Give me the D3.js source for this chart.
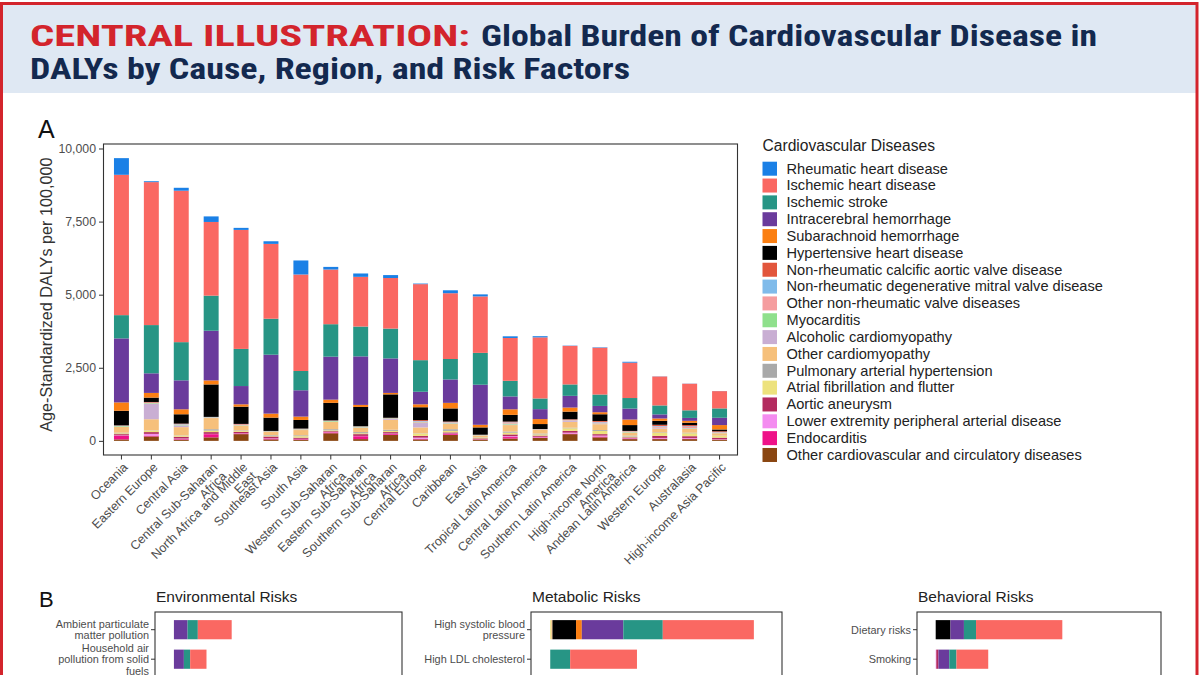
<!DOCTYPE html>
<html><head><meta charset="utf-8">
<script src="https://cdn.jsdelivr.net/npm/d3@7"></script>
<style>body{margin:0;background:#fff;} svg{display:block;}</style>
</head><body>
<svg id="c" width="1200" height="675"></svg>
<script>
// ---------------- DATA ----------------
const regions = ["Oceania","Eastern Europe","Central Asia","Central Sub-Saharan Africa","North Africa and Middle East","Southeast Asia","South Asia","Western Sub-Saharan Africa","Eastern Sub-Saharan Africa","Southern Sub-Saharan Africa","Central Europe","Caribbean","East Asia","Tropical Latin America","Central Latin America","Southern Latin America","High-income North America","Andean Latin America","Western Europe","Australasia","High-income Asia Pacific"];
const regionTickLabels = ["Oceania","Eastern Europe","Central Asia","Central Sub-Saharan\nAfrica","North Africa and Middle\nEast","Southeast Asia","South Asia","Western Sub-Saharan\nAfrica","Eastern Sub-Saharan\nAfrica","Southern Sub-Saharan\nAfrica","Central Europe","Caribbean","East Asia","Tropical Latin America","Central Latin America","Southern Latin America","High-income North\nAmerica","Andean Latin America","Western Europe","Australasia","High-income Asia Pacific"];
const causes = ["Rheumatic heart disease","Ischemic heart disease","Ischemic stroke","Intracerebral hemorrhage","Subarachnoid hemorrhage","Hypertensive heart disease","Non-rheumatic calcific aortic valve disease","Non-rheumatic degenerative mitral valve disease","Other non-rheumatic valve diseases","Myocarditis","Alcoholic cardiomyopathy","Other cardiomyopathy","Pulmonary arterial hypertension","Atrial fibrillation and flutter","Aortic aneurysm","Lower extremity peripheral arterial disease","Endocarditis","Other cardiovascular and circulatory diseases"];
const causeColors = ["#1a80e6","#fa6862","#279585","#6a3b9c","#fb7f12","#000000","#e2563c","#80bbea","#f59d9f","#8fe08c","#c9aed3","#f6c07b","#a9a9a9","#ede27d","#b32b5f","#f48cf0","#ee1288","#8a4611"];

const rheumatic   = [570,30,100,190,70,90,480,90,115,100,20,100,70,57,40,10,15,30,5,5,3];
const ischemicHD  = [4800,4890,5180,2520,4070,2560,3300,1870,1700,1730,2600,2250,1930,1465,2090,1318,1600,1210,990,909,591];
const ischStroke  = [795,1650,1306,1200,1270,1230,660,1110,1020,1020,1080,700,1090,534,365,390,390,360,306,260,320];
const intracHem   = [2190,670,990,1700,625,2015,900,1470,1660,1180,430,800,1370,440,340,400,215,375,140,100,250];
const subarHem    = [285,160,170,137,80,137,115,110,70,50,100,190,90,190,170,140,70,190,80,65,150];
const hypertHD    = [500,150,320,1110,590,455,295,600,660,800,440,450,250,230,170,260,230,200,136,80,60];
const calcAortic  = [5,20,15,2,15,5,5,7,2,10,30,15,3,20,3,20,30,10,40,40,25];
const degMitral   = [5,10,10,3,5,5,5,3,3,5,20,5,2,10,2,10,20,5,20,20,10];
const otherValve  = [10,10,15,5,20,5,15,10,10,10,30,20,5,40,5,20,30,15,40,40,20];
const myocarditis = [20,20,20,10,10,10,15,20,20,15,20,20,5,30,5,10,10,20,10,10,10];
const alcoholicCM = [10,530,60,20,10,5,10,10,15,30,150,20,10,20,10,30,20,10,20,20,5];
const otherCM     = [200,380,280,380,160,110,180,250,150,340,200,180,60,220,130,200,200,100,130,130,80];
const pulmArtHyp  = [20,10,10,50,20,20,30,40,40,40,10,60,10,40,30,20,30,30,20,20,10];
const atrialFib   = [30,50,40,50,30,30,50,30,30,40,80,50,30,60,40,90,110,30,100,100,60];
const aorticAneur = [40,60,60,60,50,60,40,30,60,50,60,40,30,60,40,60,50,30,70,60,50];
const lowerExtPAD = [10,60,20,10,10,10,10,10,10,20,40,20,5,30,20,30,30,10,20,20,10];
const endocard    = [130,30,20,110,20,30,20,30,100,30,20,30,10,50,20,20,30,20,20,20,10];
const otherCVD    = [50,150,40,120,230,50,40,260,60,200,50,200,40,80,100,230,120,60,60,60,40];
const causeValues = [rheumatic,ischemicHD,ischStroke,intracHem,subarHem,hypertHD,calcAortic,degMitral,otherValve,myocarditis,alcoholicCM,otherCM,pulmArtHyp,atrialFib,aorticAneur,lowerExtPAD,endocard,otherCVD];
const yTicks = [0,2500,5000,7500,10000];

// Panel B (values per cause, same order as `causes`)
const envRisks = ["Ambient particulate matter pollution","Household air pollution from solid fuels"];
const envLabels = ["Ambient particulate\nmatter pollution","Household air\npollution from solid\nfuels"];
const ambientPM    = [0,340,103,137,0,0,0,0,0,0,0,0,0,0,0,0,0,0];
const householdAir = [0,164,63,100,0,0,0,0,0,0,0,0,0,0,0,0,0,0];
const metRisks = ["High systolic blood pressure","High LDL cholesterol"];
const metLabels = ["High systolic blood\npressure","High LDL cholesterol"];
const highSBP = [0,900,390,410,57,233,0,0,0,0,0,12,0,10,0,0,0,0];
const highLDL = [0,660,197,0,0,0,0,0,0,0,0,0,0,0,0,0,0,0];
const behRisks = ["Dietary risks","Smoking"];
const behLabels = ["Dietary risks","Smoking"];
const dietary = [0,877,123,137,0,150,0,0,0,0,0,0,0,0,0,0,0,0];
const smoking = [0,323,73,110,0,0,0,0,0,0,0,0,0,0,22,6,0,0];

// ---------------- DRAW ----------------
const FONT = "'Liberation Sans', Arial, Helvetica, sans-serif";
const COND = "'Liberation Sans Narrow','Arial Narrow','Roboto Condensed','Roboto',sans-serif";
const svg = d3.select("#c");
svg.append("rect").attr("width",1200).attr("height",675).attr("fill","#fff");
svg.append("rect").attr("x",3).attr("y",5).attr("width",1193).attr("height",88).attr("fill","#dfe8f3");
svg.append("rect").attr("x",1.5).attr("y",3.5).attr("width",1195.5).attr("height",720)
  .attr("fill","none").attr("stroke","#d3242c").attr("stroke-width",3);

function titleText(txt, x, y, len, color){
  svg.append("text").attr("x",x).attr("y",y).attr("font-family",COND).attr("font-weight","bold")
    .attr("font-size",30).attr("fill",color).attr("textLength",len).attr("lengthAdjust","spacingAndGlyphs").text(txt);
}
titleText("CENTRAL ILLUSTRATION:",30,46,440,"#d3242c");
titleText("Global Burden of Cardiovascular Disease in",481,46,616,"#13294f");
titleText("DALYs by Cause, Region, and Risk Factors",30,79,600,"#13294f");

// Panel A
const A = {l:103.5, r:737.5, t:144, b:455};
svg.append("text").attr("x",38).attr("y",138).attr("font-family",FONT).attr("font-size",25).attr("fill","#111").text("A");
const x = d3.scaleBand().domain(regions).range([A.l,A.r]).paddingInner(0.5).paddingOuter(0.35);
const rows = regions.map((r,i)=>{const o={region:r}; causes.forEach((c,j)=>o[c]=causeValues[j][i]); return o;});
const series = d3.stack().keys(causes.slice().reverse())(rows);
const maxTotal = d3.max(series[series.length-1], d=>d[1]);
const padY = maxTotal*0.05;
const y = d3.scaleLinear().domain([-padY, maxTotal+padY]).range([A.b,A.t]);
const color = d3.scaleOrdinal(causes, causeColors);

svg.append("g").selectAll("g").data(series).join("g").attr("fill",s=>color(s.key))
  .selectAll("rect").data(s=>s).join("rect")
  .attr("x",d=>x(d.data.region)).attr("width",x.bandwidth())
  .attr("y",d=>y(d[1])).attr("height",d=>Math.max(0,y(d[0])-y(d[1])));

svg.append("rect").attr("x",A.l).attr("y",A.t).attr("width",A.r-A.l).attr("height",A.b-A.t)
  .attr("fill","none").attr("stroke","#333").attr("stroke-width",1.1);

const gy = svg.append("g").attr("transform",`translate(${A.l},0)`)
  .call(d3.axisLeft(y).tickValues(yTicks).tickFormat(d3.format(",")).tickSize(4.5).tickPadding(3));
gy.select(".domain").remove();
gy.selectAll("line").attr("stroke","#333");
gy.selectAll("text").attr("font-family",FONT).attr("font-size",12.3).attr("fill","#4d4d4d");

const gx = svg.append("g").attr("transform",`translate(0,${A.b})`)
  .call(d3.axisBottom(x).tickSize(4.5).tickFormat(""));
gx.select(".domain").remove();
gx.selectAll("line").attr("stroke","#333");

regions.forEach((r,i)=>{
  const lines = regionTickLabels[i].split("\n");
  const t = svg.append("text").attr("font-family",FONT).attr("font-size",12.5).attr("fill","#4d4d4d")
    .attr("text-anchor","end")
    .attr("transform",`translate(${x(r)+x.bandwidth()/2},${A.b+4.5}) rotate(-45)`);
  lines.forEach((ln,k)=>t.append("tspan").attr("x",-1).attr("y",11+k*12.5).text(ln));
});

svg.append("text").attr("font-family",FONT).attr("font-size",16.2).attr("fill","#333").attr("text-anchor","middle")
  .attr("transform",`translate(52,${(y(0)+y(10000))/2}) rotate(-90)`).text("Age-Standardized DALYs per 100,000");

// Legend
const lg = svg.append("g").attr("transform","translate(762.5,0)");
lg.append("text").attr("x",0).attr("y",151).attr("font-family",FONT).attr("font-size",15.6).attr("fill","#222").text("Cardiovascular Diseases");
causes.forEach((c,i)=>{
  const yy = 161.7 + i*16.84;
  lg.append("rect").attr("x",0).attr("y",yy).attr("width",14.5).attr("height",14).attr("fill",color(c));
  lg.append("text").attr("x",24).attr("y",yy+11.8).attr("font-family",FONT).attr("font-size",14.6).attr("fill","#222").text(c);
});

// Panel B
svg.append("text").attr("x",39).attr("y",607).attr("font-family",FONT).attr("font-size",22).attr("fill","#111").text("B");
function riskPanel(L, W, title, risks, labels, vals){
  const top = 612;
  const step = 29.5;
  const yb = d3.scaleBand().domain(risks).range([top, top+step*(risks.length+0.2)]).paddingInner(0.35).paddingOuter(0.275);
  const xb = d3.scaleLinear().domain([-190, 2290]).range([L, L+W]);
  const rowsB = risks.map((r,i)=>{const o={risk:r}; causes.forEach((c,j)=>o[c]=vals[i][j]); return o;});
  const ser = d3.stack().keys(causes.slice().reverse())(rowsB);
  const g = svg.append("g");
  g.selectAll("g").data(ser).join("g").attr("fill",s=>color(s.key))
    .selectAll("rect").data(s=>s.filter(d=>d[1]>d[0])).join("rect")
    .attr("y",d=>yb(d.data.risk)).attr("height",yb.bandwidth())
    .attr("x",d=>xb(d[0])).attr("width",d=>xb(d[1])-xb(d[0]));
  g.append("rect").attr("x",L).attr("y",top).attr("width",W).attr("height",120)
    .attr("fill","none").attr("stroke","#333").attr("stroke-width",1.1);
  svg.append("text").attr("x",L+1).attr("y",602).attr("font-family",FONT).attr("font-size",15.5).attr("fill","#222").text(title);
  risks.forEach((r,i)=>{
    const cy = yb(r)+yb.bandwidth()/2;
    g.append("line").attr("x1",L-4).attr("x2",L).attr("y1",cy).attr("y2",cy).attr("stroke","#333");
    const lines = labels[i].split("\n");
    const t = g.append("text").attr("font-family",FONT).attr("font-size",10.9).attr("fill","#4d4d4d").attr("text-anchor","end");
    lines.forEach((ln,k)=>t.append("tspan").attr("x",L-6).attr("y",cy+3.8+(k-(lines.length-1)/2)*11.5).text(ln));
  });
}
riskPanel(155,247,"Environmental Risks",envRisks,envLabels,[ambientPM,householdAir]);
riskPanel(531,251,"Metabolic Risks",metRisks,metLabels,[highSBP,highLDL]);
riskPanel(917,244,"Behavioral Risks",behRisks,behLabels,[dietary,smoking]);
</script>
</body></html>
